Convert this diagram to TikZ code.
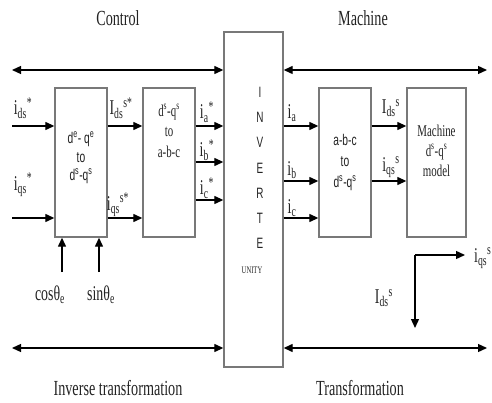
\documentclass[tikz,border=0pt]{standalone}
\usepackage{fontspec}
\usetikzlibrary{arrows.meta,calc}
\newfontfamily\serf{Liberation Serif}[FakeStretch=0.66]
\newfontfamily\sanf{Liberation Sans}[FakeStretch=0.66]
\definecolor{boxgray}{RGB}{120,120,120}
\definecolor{txt}{RGB}{35,35,35}
\tikzset{
  blk/.style={draw=boxgray,line width=1.4pt,inner sep=0pt,fill=white},
  arr/.style={line width=1.3pt,-{Triangle[length=9pt,width=8pt]}},
  darr/.style={line width=1.3pt,{Triangle[length=9pt,width=8pt]}-{Triangle[length=9pt,width=8pt]}},
  lab/.style={inner sep=0pt,text=txt,font=\serf\fontsize{21}{22}\selectfont},
  ttl/.style={inner sep=0pt,text=txt,font=\serf\fontsize{21.5}{23}\selectfont},
  btxs/.style={inner sep=0pt,text=txt,font=\serf\fontsize{16.5}{18}\selectfont},
  btxa/.style={inner sep=0pt,text=txt,font=\sanf\fontsize{15.5}{17}\selectfont},
  invl/.style={inner sep=0pt,text=txt,font=\sanf\fontsize{15}{16}\selectfont}
}
\begin{document}
\begin{tikzpicture}[x=1pt,y=-1pt]
\useasboundingbox (0,0) rectangle (492,403);
% blocks
\node[blk,minimum width=52pt,minimum height=149pt] (b1) at (81,162.5) {};
\node[blk,minimum width=52pt,minimum height=149pt] (b2) at (169,162.5) {};
\node[blk,minimum width=59pt,minimum height=335pt] (inv) at (253.5,199.5) {};
\node[blk,minimum width=52pt,minimum height=149pt] (b3) at (345,162.5) {};
\node[blk,minimum width=59pt,minimum height=149pt] (b4) at (436.5,162.5) {};
% free end coordinates
\coordinate (tl) at (12,70);
\coordinate (tr) at (487,70);
\coordinate (bl) at (12,348);
\coordinate (br) at (487,348);
\coordinate (in1) at (12,126);
\coordinate (in2) at (12,218);
\coordinate (y1) at (0,126);
\coordinate (y2) at (0,218);
\coordinate (ya) at (0,126);
\coordinate (yb) at (0,162);
\coordinate (yc) at (0,200);
\coordinate (za) at (0,126);
\coordinate (zb) at (0,181);
\coordinate (zc) at (0,218);
\coordinate (cs) at (62,272);
\coordinate (sn) at (99,272);
\coordinate (cn) at (415,255);
\coordinate (ce) at (465,255);
\coordinate (cd) at (415,328);
% long double arrows
\draw[darr] (tl) -- (inv.west |- tl);
\draw[darr] (inv.east |- tr) -- (tr);
\draw[darr] (bl) -- (inv.west |- bl);
\draw[darr] (inv.east |- br) -- (br);
% signal arrows
\draw[arr] (in1) -- (b1.west |- in1);
\draw[arr] (in2) -- (b1.west |- in2);
\draw[arr] (b1.east |- y1) -- (b2.west |- y1);
\draw[arr] (b1.east |- y2) -- (b2.west |- y2);
\draw[arr] (b2.east |- ya) -- (inv.west |- ya);
\draw[arr] (b2.east |- yb) -- (inv.west |- yb);
\draw[arr] (b2.east |- yc) -- (inv.west |- yc);
\draw[arr] (inv.east |- za) -- (b3.west |- za);
\draw[arr] (inv.east |- zb) -- (b3.west |- zb);
\draw[arr] (inv.east |- zc) -- (b3.west |- zc);
\draw[arr] (b3.east |- za) -- (b4.west |- za);
\draw[arr] (b3.east |- zb) -- (b4.west |- zb);
\draw[arr] (cs) -- (cs |- b1.south);
\draw[arr] (sn) -- (sn |- b1.south);
\draw[arr] (cn) -- (ce);
\draw[arr] (cn) -- (cd);
% titles
\node[ttl] (tc) at (118,18) {Control};
\node[ttl] (tm) at (363,18) {Machine};
\node[ttl] (ti) at (118,388) {Inverse transformation};
\node[ttl] (tt) at (360,388) {Transformation};
% block texts
\node[btxa] (t1a) at (81,139) {d\textsuperscript{e}- q\textsuperscript{e}};
\node[btxa] (t1b) at (81,157.5) {to};
\node[btxa] (t1c) at (81,176) {d\textsuperscript{s}-q\textsuperscript{s}};
\node[btxs] (t2a) at (169,112) {d\textsuperscript{s}-q\textsuperscript{s}};
\node[btxs] (t2b) at (169,132) {to};
\node[btxs] (t2c) at (169,152) {a-b-c};
\node[btxa] (t3a) at (345,140) {a-b-c};
\node[btxa] (t3b) at (345,162) {to};
\node[btxa] (t3c) at (345,183) {d\textsuperscript{s}-q\textsuperscript{s}};
\node[btxs] (t4a) at (436.5,131) {Machine};
\node[btxs] (t4b) at (436.5,152) {d\textsuperscript{s}-q\textsuperscript{s}};
\node[btxs] (t4c) at (436.5,171) {model};
% inverter letters
\node[invl] (l1) at (260,92) {I};
\node[invl] (l2) at (260,117) {N};
\node[invl] (l3) at (260,142) {V};
\node[invl] (l4) at (260,168) {E};
\node[invl] (l5) at (260,193) {R};
\node[invl] (l6) at (260,218) {T};
\node[invl] (l7) at (260,243) {E};
\node[inner sep=0pt,text=txt,font=\serf\fontsize{10}{11}\selectfont] (l8) at (252,270) {UNITY};
% signal labels
\node[lab] (a1) at (23,108) {i\textsubscript{ds}\textsuperscript{*}};
\node[lab] (a2) at (23,185) {i\textsubscript{qs}\textsuperscript{*}};
\node[lab] (a3) at (121,108) {I\textsubscript{ds}\textsuperscript{s*}};
\node[lab] (a4) at (118,205) {i\textsubscript{qs}\textsuperscript{s*}};
\node[lab] (a5) at (207,112) {i\textsubscript{a}\textsuperscript{*}};
\node[lab] (a6) at (207,150) {i\textsubscript{b}\textsuperscript{*}};
\node[lab] (a7) at (207,188) {i\textsubscript{c}\textsuperscript{*}};
\node[lab] (a8) at (292,113) {i\textsubscript{a}};
\node[lab] (a9) at (292,170) {i\textsubscript{b}};
\node[lab] (a10) at (292,208) {i\textsubscript{c}};
\node[lab] (a11) at (391,108) {I\textsubscript{ds}\textsuperscript{s}};
\node[lab] (a12) at (391,167) {i\textsubscript{qs}\textsuperscript{s}};
\node[lab,anchor=west] (a13) at (474,258) {i\textsubscript{qs}\textsuperscript{s}};
\node[lab] (a14) at (384,298) {I\textsubscript{ds}\textsuperscript{s}};
\node[lab] (a15) at (50,295) {cosθ\textsubscript{e}};
\node[lab] (a16) at (101,295) {sinθ\textsubscript{e}};
\end{tikzpicture}
\end{document}
